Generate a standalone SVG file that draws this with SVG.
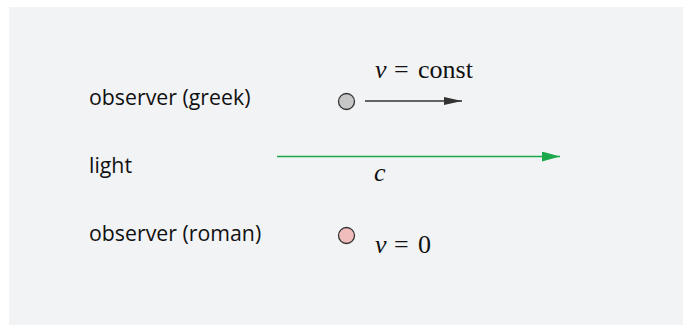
<svg xmlns="http://www.w3.org/2000/svg" width="691" height="325" viewBox="0 0 691 325">
<style>
.lbl{font-family:"Open Sans","Noto Sans",sans-serif;font-size:21.3px;fill:#111}
.math{font-family:"Liberation Serif","DejaVu Serif",serif;font-size:26px;fill:#111}
.it{font-style:italic}
</style>
<defs>
<marker id="ahd" markerWidth="18" markerHeight="8" refX="18" refY="4" orient="auto" markerUnits="userSpaceOnUse"><path d="M0,0 L18,4 L0,8 Z" fill="#333"/></marker>
<marker id="ahg" markerWidth="18" markerHeight="10" refX="18" refY="5" orient="auto" markerUnits="userSpaceOnUse"><path d="M0,0 L18,5 L0,10 Z" fill="#1ba84a"/></marker>
</defs>
<rect x="9" y="7" width="674" height="318" fill="#f2f3f5"/>
<g id="label-greek"><text class="lbl" x="89" y="105">observer (greek)</text></g>
<g id="label-light"><text class="lbl" x="89" y="173">light</text></g>
<g id="label-roman"><text class="lbl" x="89" y="241">observer (roman)</text></g>
<g id="observer-greek"><circle cx="346.5" cy="101.5" r="8" fill="#c6c6c6" stroke="#333" stroke-width="1.3"/></g>
<g id="observer-roman"><circle cx="346.5" cy="235.5" r="8" fill="#f0bcbc" stroke="#333" stroke-width="1.3"/></g>
<g id="connectors">
<line x1="365" y1="101" x2="462" y2="101" stroke="#333" stroke-width="1.5" marker-end="url(#ahd)"/>
<line x1="277" y1="156.5" x2="560" y2="156.5" stroke="#1ba84a" stroke-width="1.5" marker-end="url(#ahg)"/>
</g>
<g id="math-labels">
<text class="math" y="77.7"><tspan class="it" x="375">v</tspan><tspan x="394">=</tspan><tspan x="418">const</tspan></text>
<text class="math it" x="374" y="181">c</text>
<text class="math" y="253.3"><tspan class="it" x="375">v</tspan><tspan x="394">=</tspan><tspan x="418">0</tspan></text>
</g>
</svg>
